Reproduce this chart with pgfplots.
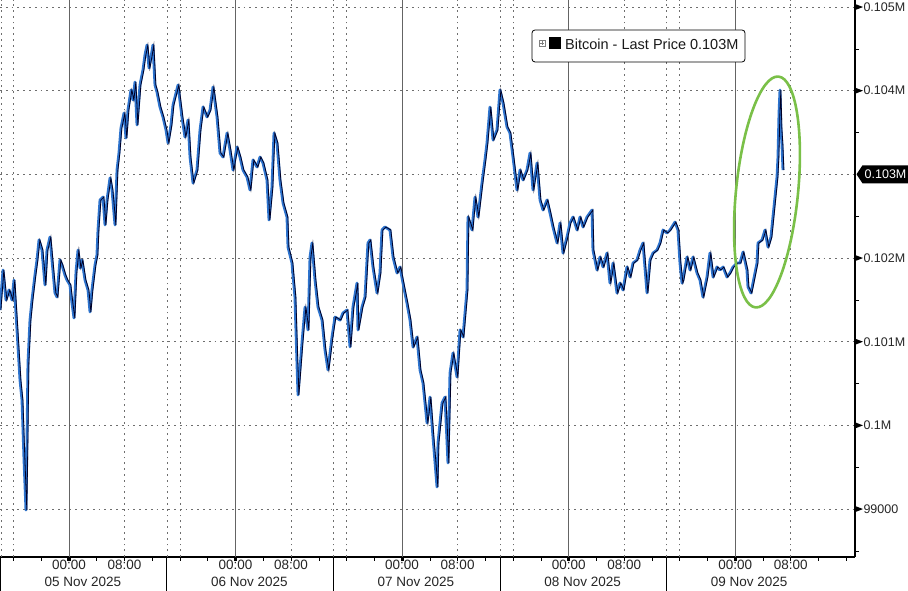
\documentclass[border=0pt]{standalone}
\usepackage{fontspec}
\setmainfont{Liberation Sans}
\usepackage{pgfplots}
\usepackage{pgfplotstable}
\pgfplotsset{compat=1.18}
\definecolor{bbblue}{RGB}{45,115,205}
\definecolor{gridgray}{RGB}{110,110,110}
\definecolor{daygray}{RGB}{100,100,100}
\definecolor{ellgreen}{RGB}{122,192,72}

\pgfplotstableread{
h v
-9.94 101379
-9.51 101857
-9.08 101498
-8.65 101618
-8.21 101498
-7.93 101737
-7.49 101140
-7.06 100542
-6.77 100303
-6.48 99586
-6.20 98988
-6.05 99825
-5.91 100745
-5.62 101259
-5.33 101498
-4.90 101797
-4.61 101977
-4.32 102216
-3.89 102096
-3.46 101678
-3.17 102096
-2.74 102251
-2.45 101977
-2.02 101582
-1.73 101534
-1.30 101977
-1.01 101917
-0.58 101797
-0.29 101737
0.14 101678
0.43 101462
0.72 101283
1.01 101833
1.30 102096
1.59 101881
1.87 101977
2.31 101737
2.74 101618
3.03 101355
3.31 101618
3.75 101917
4.03 102036
4.18 102335
4.47 102694
4.90 102729
5.19 102395
5.48 102694
5.91 102957
6.20 102813
6.63 102395
6.92 103052
7.20 103255
7.49 103554
7.93 103733
8.21 103434
8.50 103769
8.93 104008
9.22 103889
9.51 104104
9.80 103590
10.23 104068
10.66 104247
10.95 104427
11.24 104546
11.53 104271
11.82 104403
12.10 104546
12.39 104068
12.68 103984
13.11 103805
13.54 103686
13.98 103530
14.27 103375
14.70 103590
14.99 103829
15.71 104068
16.28 103686
16.71 103446
17.15 103650
17.44 103207
17.87 102897
18.44 103052
18.88 103530
19.31 103805
19.88 103686
20.32 103769
20.75 104044
21.33 103686
21.76 103255
22.19 103207
22.77 103494
23.20 103291
23.63 103052
24.21 103327
24.64 103207
25.07 103052
25.65 102968
26.08 102813
26.51 103172
27.09 103088
27.52 103207
27.95 103136
28.53 102933
28.82 102454
29.25 102849
29.54 103494
29.97 103375
30.40 102933
30.84 102658
31.41 102490
31.56 102131
32.13 101940
32.56 101534
32.85 100745
33.00 100363
33.57 100984
34.01 101414
34.44 101140
34.73 102012
35.01 102180
35.45 101737
35.88 101414
36.46 101259
36.89 100901
37.32 100662
37.90 101056
38.33 101295
39.05 101259
39.48 101343
40.06 101379
40.49 100937
40.92 101414
41.50 101701
41.64 101140
42.22 101414
42.65 101534
43.08 102180
43.37 102216
43.80 101893
44.38 101582
44.81 101821
45.10 102335
45.53 102371
46.25 102335
46.69 102012
47.26 101821
47.69 101893
48.13 101701
48.70 101462
49.14 101259
49.57 100937
50.14 101056
50.58 100662
51.01 100506
51.59 100028
52.02 100339
52.45 99861
53.03 99263
53.17 99789
53.75 100267
54.18 100339
54.61 99550
54.90 100626
55.33 100865
55.91 100578
56.34 101140
56.77 101056
57.35 101618
57.49 102490
58.07 102335
58.50 102729
58.93 102490
59.51 102897
59.94 103172
60.23 103375
60.66 103805
61.10 103411
61.67 103530
62.10 104008
62.54 103853
63.11 103566
63.54 103494
63.98 103207
64.55 102813
64.99 103052
65.42 102933
65.99 103052
66.43 103255
66.86 102813
67.44 103136
67.87 102694
68.30 102574
68.88 102694
69.31 102538
69.74 102371
70.32 102180
70.75 102419
71.18 102060
71.76 102251
72.19 102419
72.62 102490
73.20 102335
73.63 102490
74.06 102371
74.64 102490
75.36 102574
75.50 102096
76.08 101857
76.51 102012
76.95 101893
77.52 102060
77.95 101701
78.39 101940
78.96 101582
79.39 101701
79.83 101618
80.40 101893
80.84 101773
81.27 101940
81.84 101977
82.28 102096
82.71 102180
83.29 101582
83.72 101977
84.15 102060
84.73 102096
85.16 102180
85.59 102335
86.17 102299
86.60 102335
87.32 102430
87.75 102335
88.04 101940
88.33 101701
88.47 101737
89.05 102012
89.48 101857
89.91 102012
90.49 101821
90.92 101737
91.35 101534
91.93 101773
92.36 102060
92.80 101773
93.37 101893
93.80 101857
94.24 101893
94.81 101773
95.24 101821
95.68 101893
96.25 101940
96.69 101940
97.12 102072
97.69 101857
97.84 101654
98.27 101582
98.56 101701
99.14 101940
99.28 102180
99.86 102216
100.29 102335
100.72 102131
101.15 102251
101.44 102490
101.73 102729
102.02 102968
102.16 103207
102.31 103733
102.45 104008
102.59 103554
102.74 103351
102.88 103052
}\btc

\begin{document}
\begin{tikzpicture}
\useasboundingbox (0pt,0pt) rectangle (908pt,591pt);
\fill[white] (0pt,0pt) rectangle (908pt,591pt);
\begin{axis}[
  at={(0pt,34pt)}, anchor=south west,
  scale only axis, width=855pt, height=557pt,
  xmin=-9.94, xmax=113.26, ymin=98427, ymax=105084,
  axis x line*=bottom, axis y line*=right,
  axis line style={black, line width=1.1pt},
  clip=false,
  scaled y ticks=false, scaled x ticks=false,
  xtick={0,8,24,32,48,56,72,80,96,104},
  xticklabels={00:00,08:00,00:00,08:00,00:00,08:00,00:00,08:00,00:00,08:00},
  minor xtick={-8,-4,...,112},
  ytick={99000,100000,101000,102000,103000,104000,105000},
  yticklabels={99000,0.1M,0.101M,0.102M,0.103M,0.104M,0.105M},
  minor ytick={98500,99500,100500,101500,102500,103500,104500},
  major tick length=0pt, minor tick length=4pt,
  tick align=outside,
  minor tick style={black, line width=0.6pt},
  xticklabel style={font=\fontsize{13.5}{15}\selectfont, text=black!85},
  yticklabel style={font=\fontsize{12.5}{15}\selectfont, text=black!85, anchor=west, xshift=5pt},
]
% horizontal dotted grid
\pgfplotsinvokeforeach{99000,100000,101000,102000,103000,104000,105000}{
  \draw[gridgray, line width=0.6pt, dash pattern=on 1.8pt off 4pt] (axis cs:-9.94,#1) -- (axis cs:113.26,#1);
}
% vertical dotted grid
\pgfplotsinvokeforeach{-9.8,-8,8,14.1,16,32,38.1,40,56,62.1,64,80,86.1,88,104}{
  \draw[gridgray, line width=0.6pt, dash pattern=on 1.8pt off 4pt] (axis cs:#1,98427) -- (axis cs:#1,105084);
}
% day lines
\pgfplotsinvokeforeach{0,24,48,72,96}{
  \draw[daygray, line width=0.8pt] (axis cs:#1,98427) -- (axis cs:#1,105084);
  \fill[black] (axis cs:#1,98427) ++(-1.6pt,0pt) rectangle ++(3.2pt,-4pt);
}
% separators below axis
\pgfplotsinvokeforeach{-9.85,14.1,38.1,62.1,86.1}{
  \draw[black, line width=0.9pt] (axis cs:#1,98427) -- ++(0pt,-34pt);
}
% date labels
\node[font=\fontsize{13.5}{15}\selectfont, text=black!85] at ([yshift=-25pt]axis cs:2,98427) {05 Nov 2025};
\node[font=\fontsize{13.5}{15}\selectfont, text=black!85] at ([yshift=-25pt]axis cs:26,98427) {06 Nov 2025};
\node[font=\fontsize{13.5}{15}\selectfont, text=black!85] at ([yshift=-25pt]axis cs:50,98427) {07 Nov 2025};
\node[font=\fontsize{13.5}{15}\selectfont, text=black!85] at ([yshift=-25pt]axis cs:74,98427) {08 Nov 2025};
\node[font=\fontsize{13.5}{15}\selectfont, text=black!85] at ([yshift=-25pt]axis cs:98,98427) {09 Nov 2025};
% y tick triangles
\pgfplotsinvokeforeach{99000,100000,101000,102000,104000,105000}{
  \fill[black] (axis cs:113.26,#1) ++(1pt,2.7pt) -- ++(7pt,-2.7pt) -- ++(-7pt,-2.7pt) -- cycle;
}
% data
\addplot[bbblue, line width=2.8pt, line join=round] table[x=h,y=v] {\btc};
\addplot[black!85!blue, line width=0.8pt, line join=miter, xshift=0.9pt] table[x=h,y=v] {\btc};
% last price tag
\fill[black] (axis cs:113.26,103000) ++(1.5pt,0pt) -- ++(6pt,9pt) -- ++(46pt,0pt) -- ++(0pt,-18pt) -- ++(-46pt,0pt) -- cycle;
\node[anchor=west, inner sep=0pt, text=white, font=\fontsize{12.5}{15}\selectfont] at ([xshift=9.5pt]axis cs:113.26,103000) {0.103M};
\end{axis}
% legend box
\draw[black, line width=0.8pt, fill=white, rounded corners=3pt] (532pt,529pt) rectangle (745pt,561pt);
\draw[gray, line width=0.4pt] (539pt,545pt) rectangle (545pt,551pt);
\draw[gray, line width=0.4pt] (540.3pt,548pt) -- (543.7pt,548pt) (542pt,546.3pt) -- (542pt,549.7pt);
\fill[black] (549pt,541.5pt) rectangle (561pt,553.5pt);
\node[anchor=west, inner sep=0pt, font=\fontsize{14.5}{16}\selectfont, text=black!90] at (565pt,547pt) {Bitcoin - Last Price 0.103M};
% highlight ellipse
\draw[ellgreen, line width=2.6pt, rotate around={-5.7:(767pt,399pt)}] (767pt,399pt) ellipse (31pt and 116pt);
\end{tikzpicture}
\end{document}
